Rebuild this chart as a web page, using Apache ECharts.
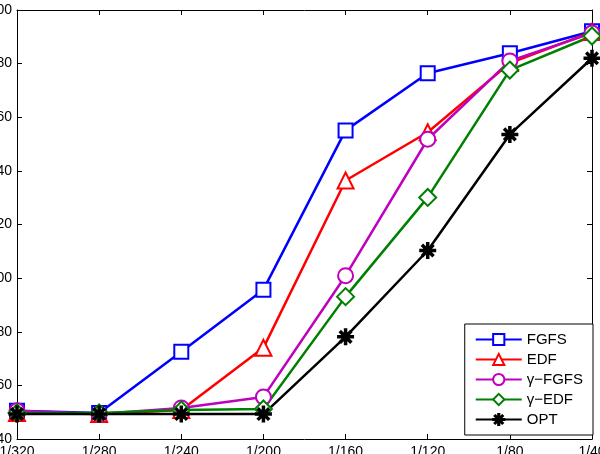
<!DOCTYPE html>
<html>
<head>
<meta charset="utf-8">
<script src="https://cdn.jsdelivr.net/npm/echarts@6/dist/echarts.min.js"></script>
<style>
  html, body { margin: 0; padding: 0; background: #fff; }
  #chart { width: 600px; height: 454px; }
</style>
</head>
<body>
<div id="chart"></div>
<script>
// x categories (arrival rate)
const categories = ['1/320', '1/280', '1/240', '1/200', '1/160', '1/120', '1/80', '1/40'];

// series values
const fgfs   = [50.5, 49.7, 72.5, 95.7, 155.1, 176.4, 183.9, 192.1];
const edf    = [49.7, 49.3, 50.8, 74.0, 136.4, 154.4, 180.2, 191.8];
const gFgfs  = [50.5, 49.3, 51.6, 55.7, 100.9, 151.8, 181.0, 191.4];
const gEdf   = [49.7, 49.7, 50.8, 51.2, 93.1, 130.1, 177.6, 190.3];
const opt    = [49.3, 49.3, 49.3, 49.3, 78.1, 110.3, 153.6, 182.0];

// MATLAB-style asterisk marker
const asterisk = 'path://M9,0 L11,0 L11,20 L9,20 Z M0,9 L20,9 L20,11 L0,11 Z ' +
  'M3.9,2.5 L17.5,16.1 L16.1,17.5 L2.5,3.9 Z M16.1,2.5 L17.5,3.9 L3.9,17.5 L2.5,16.1 Z';

const font = 'Liberation Sans, Arial, sans-serif';

const makeSeries = (name, data, color, symbol, size) => ({
  name,
  type: 'line',
  data,
  symbol,
  symbolSize: size,
  showAllSymbol: true,
  lineStyle: { color, width: 2.5 },
  itemStyle: { color, borderColor: color, borderWidth: 2 },
  emphasis: { disabled: true },
});

const chart = echarts.init(document.getElementById('chart'));

const hiddenAxis = {
  axisLine: { show: true, lineStyle: { color: '#000', width: 1 } },
  axisTick: { show: true, inside: true, length: 5, lineStyle: { color: '#000' } },
  axisLabel: { show: false },
  splitLine: { show: false },
};

chart.setOption({
  animation: false,
  backgroundColor: '#fff',
  grid: { left: 17, right: 8, top: 10, bottom: 15, containLabel: false, outerBoundsMode: 'none' },
  legend: {
    right: 7,
    bottom: 19,
    orient: 'vertical',
    itemWidth: 46,
    itemHeight: 14,
    itemGap: 5,
    padding: [8, 10, 8, 10],
    borderColor: '#000',
    borderWidth: 1,
    backgroundColor: '#fff',
    textStyle: { fontFamily: font, fontSize: 15, color: '#000' },
    data: ['FGFS', 'EDF', 'γ−FGFS', 'γ−EDF', 'OPT'],
  },
  xAxis: [
    {
      type: 'category',
      data: categories,
      boundaryGap: false,
      axisLine: { show: true, lineStyle: { color: '#000', width: 1 } },
      axisTick: { show: true, inside: true, length: 5, alignWithLabel: true, lineStyle: { color: '#000' } },
      axisLabel: { fontFamily: font, fontSize: 14, color: '#000', margin: 6, interval: 0 },
      splitLine: { show: false },
    },
    Object.assign({ type: 'category', data: categories, boundaryGap: false, position: 'top' }, hiddenAxis),
  ],
  yAxis: [
    {
      type: 'value',
      min: 40,
      max: 200,
      interval: 20,
      axisLine: { show: true, lineStyle: { color: '#000', width: 1 } },
      axisTick: { show: true, inside: true, length: 5, lineStyle: { color: '#000' } },
      axisLabel: { fontFamily: font, fontSize: 14, color: '#000', margin: 5 },
      splitLine: { show: false },
    },
    Object.assign({ type: 'value', min: 40, max: 200, interval: 20, position: 'right' }, hiddenAxis),
  ],
  series: [
    makeSeries('FGFS', fgfs, '#0000ff', 'emptyRect', 14),
    makeSeries('EDF', edf, '#ff0000', 'emptyTriangle', 16),
    makeSeries('γ−FGFS', gFgfs, '#bf00bf', 'emptyCircle', 15),
    makeSeries('γ−EDF', gEdf, '#008000', 'emptyDiamond', 17),
    makeSeries('OPT', opt, '#000000', asterisk, 15),
  ],
});
</script>
</body>
</html>
